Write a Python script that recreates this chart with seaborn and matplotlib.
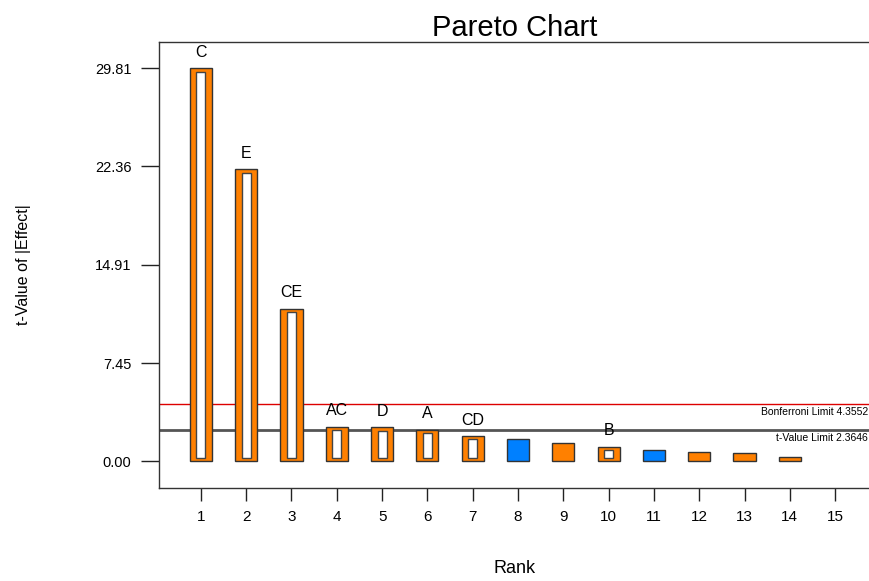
import numpy as np
import pandas as pd
import matplotlib
matplotlib.use("Agg")
import matplotlib.pyplot as plt
import seaborn as sns

# ==================== Data ====================
ranks = [str(i) for i in range(1, 16)]
effect_rank = ranks[:14]
effect_names = ["C", "E", "CE", "AC", "D", "A", "CD", "", "", "B", "", "", "", ""]
t_values = [29.81, 22.15, 11.57, 2.62, 2.59, 2.40, 1.92, 1.66, 1.36, 1.11, 0.83, 0.70, 0.60, 0.33]
signs = ["pos", "pos", "pos", "pos", "pos", "pos", "pos", "neg", "pos", "pos", "neg", "pos", "pos", "pos"]
selected = [True] * 7 + [False, False, True] + [False] * 4

y_ticks = [0.00, 7.45, 14.91, 22.36, 29.81]
bonferroni = 4.3552
t_limit = 2.3646

PALETTE = {"pos": "#FF8000", "neg": "#0080FF"}

df = pd.DataFrame({"rank": effect_rank, "term": effect_names, "t": t_values,
                   "sign": signs, "sel": selected})

# ==================== Plot ====================
sns.set_theme(style="ticks")
plt.rcParams["font.family"] = ["Liberation Sans", "DejaVu Sans"]
plt.rcParams["text.color"] = "black"
plt.rcParams["xtick.color"] = "black"
plt.rcParams["ytick.color"] = "black"
plt.rcParams["axes.labelcolor"] = "black"

fig = plt.figure(figsize=(8.7, 5.81), dpi=100)
ax = fig.add_axes([0.183, 0.160, 0.817, 0.768])

# limit lines behind bars
ax.axhline(bonferroni, color="#DD0000", lw=1.0, zorder=1)
ax.axhline(t_limit, color="#555555", lw=2.0, zorder=1)

sns.barplot(data=df, x="rank", y="t", hue="sign", palette=PALETTE, order=ranks,
            dodge=False, width=0.49, saturation=1, edgecolor="#333333", linewidth=1.0,
            legend=False, ax=ax, zorder=2)

# inner white windows for the selected (labelled) terms
pad = 0.26
inner = df[df["sel"]].copy()
inner["h"] = inner["t"] - 2 * pad
sns.barplot(data=inner, x="rank", y="h", order=ranks, color="white", width=0.2,
            saturation=1, edgecolor="#444444", linewidth=1.0, bottom=pad, ax=ax, zorder=3)

for _, r in df[df["sel"]].iterrows():
    ax.annotate(r["term"], (ranks.index(r["rank"]), r["t"]), xytext=(0, 6),
                textcoords="offset points", ha="center", va="bottom", fontsize=11.5)

ax.text(0.997, bonferroni - 0.2, f"Bonferroni Limit {bonferroni:.4f}",
        transform=ax.get_yaxis_transform(), ha="right", va="top", fontsize=7.5)
ax.text(0.997, t_limit - 0.2, f"t-Value Limit {t_limit:.4f}",
        transform=ax.get_yaxis_transform(), ha="right", va="top", fontsize=7.5)

ax.set_xlim(-0.92, 14.77)
ax.set_ylim(-2.02, 31.80)
ax.set_yticks(y_ticks)
ax.set_yticklabels([f"{v:.2f}" for v in y_ticks])

ax.tick_params(axis="y", length=13, width=1, pad=7, labelsize=10.5, color="#222222")
ax.tick_params(axis="x", length=9.5, width=1, pad=6, labelsize=11, color="#222222")

for side in ["left", "bottom", "top"]:
    ax.spines[side].set_color("#333333")
    ax.spines[side].set_linewidth(1.0)
ax.spines["right"].set_visible(False)

ax.set_title("Pareto Chart", fontsize=21, pad=4)
ax.set_xlabel("Rank", fontsize=13, labelpad=26)
ax.set_ylabel("t-Value of |Effect|", fontsize=11.5, labelpad=46,
              family=["Liberation Sans Narrow", "Liberation Sans", "DejaVu Sans"])

fig.savefig("out.png", dpi=100)
